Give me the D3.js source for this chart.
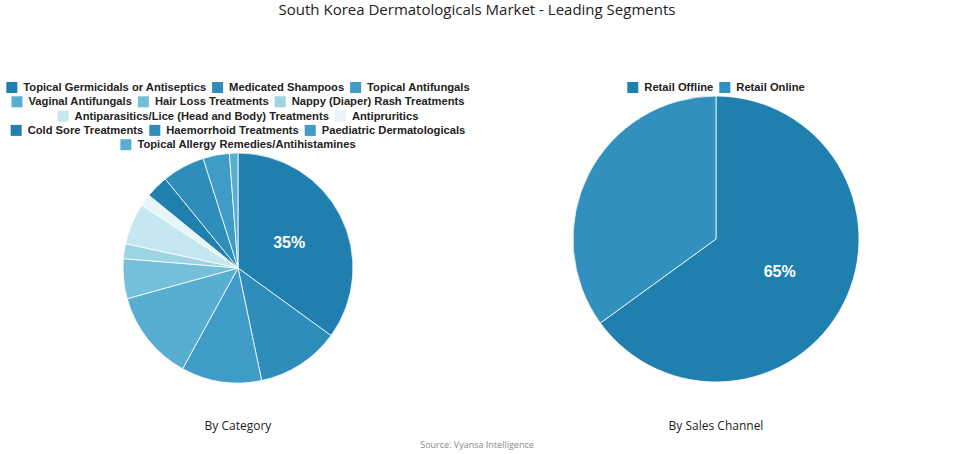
<!DOCTYPE html>
<meta charset="utf-8">
<script src="https://d3js.org/d3.v7.min.js"></script>
<style>
body { margin: 0; background: #fff; font-family: "Open Sans", sans-serif; }
</style>
<svg id="chart" width="955" height="454"></svg>
<script>
var categories = ["Topical Germicidals or Antiseptics", "Medicated Shampoos", "Topical Antifungals",
  "Vaginal Antifungals", "Hair Loss Treatments", "Nappy (Diaper) Rash Treatments",
  "Antiparasitics/Lice (Head and Body) Treatments", "Antipruritics",
  "Cold Sore Treatments", "Haemorrhoid Treatments", "Paediatric Dermatologicals",
  "Topical Allergy Remedies/Antihistamines"];
var categoryValues = [35, 11.7, 11.3, 12.7, 5.6, 2.1, 5.8, 1.7, 3.2, 6, 3.7, 1.2];
var categoryRows = [[0, 1, 2], [3, 4, 5], [6, 7], [8, 9, 10], [11]];
var channels = ["Retail Offline", "Retail Online"];
var channelValues = [65, 35];
var palette = ["#1f80b0", "#2e8dbb", "#3e9cc6", "#57aed1", "#74c0da", "#9dd4e4", "#c5e7ef", "#e6f5f8",
  "#1f80b0", "#2e8dbb", "#3e9cc6", "#57aed1"];
var channelColors = ["#1f80b0", "#3190bd"];

var svg = d3.select("#chart");
svg.append("text").attr("x", 477).attr("y", 15).attr("text-anchor", "middle")
  .attr("font-size", 15).attr("fill", "#222").text("South Korea Dermatologicals Market - Leading Segments");
svg.append("text").attr("x", 477).attr("y", 448).attr("text-anchor", "middle")
  .attr("font-size", 9).attr("fill", "#888").text("Source: Vyansa Intelligence");

function legend(names, colors, rows, cx, y0) {
  rows.forEach(function(row, r) {
    var g = svg.append("g");
    var x = 0;
    row.forEach(function(i) {
      g.append("rect").attr("x", x).attr("y", -9).attr("width", 11).attr("height", 11).attr("fill", colors[i]);
      var t = g.append("text").attr("x", x + 17).attr("y", 0).attr("font-family", "Liberation Sans, Arial")
        .attr("font-weight", "bold").attr("font-size", 11.2).attr("fill", "#222").text(names[i]);
      x += 17 + t.node().getComputedTextLength() + 6;
    });
    x -= 6;
    g.attr("transform", "translate(" + (cx - x / 2) + "," + (y0 + r * 14.3) + ")");
  });
}

function pie(values, colors, cx, cy, r, label) {
  var arcs = d3.pie().sort(null)(values);
  var arc = d3.arc().innerRadius(0).outerRadius(r);
  var g = svg.append("g").attr("transform", "translate(" + cx + "," + cy + ")");
  g.selectAll("path").data(arcs).join("path").attr("d", arc)
    .attr("fill", function(d, i) { return colors[i]; })
    .attr("stroke", "#fff").attr("stroke-width", 0.8);
  var la = d3.arc().innerRadius(r * 0.5).outerRadius(r * 0.5);
  var c = la.centroid(arcs[0]);
  g.append("text").attr("x", c[0]).attr("y", c[1]).attr("dy", "0.35em").attr("text-anchor", "middle")
    .attr("font-family", "Liberation Sans, Arial").attr("font-weight", "bold").attr("font-size", 16)
    .attr("fill", "#fff").text(Math.round(values[0]) + "%");
  svg.append("text").attr("x", cx).attr("y", 430).attr("text-anchor", "middle")
    .attr("font-size", 12).attr("fill", "#222").text(label);
}

legend(categories, palette, categoryRows, 238, 91);
legend(channels, channelColors, [[0, 1]], 716, 91);
pie(categoryValues, palette, 238, 268, 115, "By Category");
pie(channelValues, channelColors, 716, 239, 143, "By Sales Channel");
</script>
